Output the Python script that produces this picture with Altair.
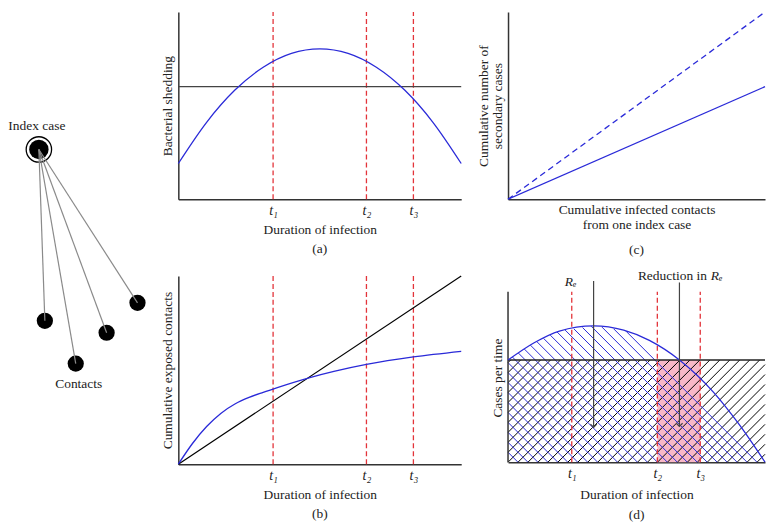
import altair as alt
import pandas as pd
import numpy as np

FONT = "Liberation Serif"
BLUE = "#2a2ad8"
RED = "#e3343a"
PINK = "#f8b8c8"
AXIS = "#333333"
TXT = "#222222"

# ---------------- network diagram ----------------
NODE_NAMES = ["Index case", "c1", "c2", "c3", "c4"]
NODE_X = [30, 36, 67, 98, 129]
NODE_Y = [138, 310, 353, 322, 292]
NET_LABELS = ["Index case", "Contacts"]
NET_LABEL_X = [28, 70]
NET_LABEL_Y = [114, 373]

# ---------------- panel (a) ----------------
A_X = [0, 1, 2, 3, 4, 5, 6, 7, 8, 9, 10]
A_SHED = [1.91, 4.11, 5.83, 7.05, 7.79, 8.03, 7.79, 7.05, 5.83, 4.11, 1.91]
A_THRESHOLD = 6.01
T_AB = [3.35, 6.65, 8.31]
T_LABELS = ["t\u2081", "t\u2082", "t\u2083"]

# ---------------- panel (b) ----------------
B_X = [0, 0.5, 1, 1.5, 2, 2.5, 3, 3.5, 4.65, 5.5, 6.65, 8.31, 10]
B_CONTACTS = [0, 1.1, 2.0, 2.7, 3.2, 3.55, 3.82, 4.07, 4.6, 4.93, 5.3, 5.7, 6.0]
B_LINE_X = [0, 10]
B_LINE_Y = [0, 10]

# ---------------- panel (c) ----------------
C_X = [0, 10]
C_UPPER = [0, 10]
C_LOWER = [0, 6.01]

# ---------------- panel (d) ----------------
D_X = [0, 1, 2, 3.33, 4.5, 5.5, 6.67, 8, 9, 10]
D_CASES = [0.60, 0.70, 0.77, 0.80, 0.775, 0.715, 0.60, 0.41, 0.22, 0.0]
D_THRESHOLD = 0.60
D_AXIS_TOP = 1.0
D_YMAX = 1.14
T_D = [2.48, 5.81, 7.48]
D_ARROW_X = [3.33, 6.67]
D_ARROW_TOP = [1.064, 1.055]
D_ARROW_BOTTOM = [0.205, 0.21]
D_TEXT = ["Reduction in"]
D_TEXT_X = [7.74]
D_TEXT_Y = [1.094]
D_RE = ["R\u2091", "R\u2091"]
D_RE_X = [2.44, 8.12]
D_RE_Y = [1.06, 1.094]

# panel sizes
NET_W, NET_H = 140, 470
AB_W = 284
A_H, B_H = 188, 189
CD_W = 258
C_H = 188
D_H = 195
HATCH = 10
FS = 13.5


def label_expr(values, labels):
    expr = "''"
    for v, l in reversed(list(zip(values, labels))):
        expr = f"datum.value == {v} ? '{l}' : {expr}"
    return expr


def seg(x, y, x2, y2):
    return pd.DataFrame({"x": x, "y": y, "x2": x2, "y2": y2})


def sc(lo, hi):
    return alt.Scale(domain=[lo, hi], nice=False, zero=False)


# ---------------- network ----------------
nx = alt.X("x:Q", scale=sc(0, NET_W), axis=None)
ny = alt.Y("y:Q", scale=alt.Scale(domain=[0, NET_H], nice=False, zero=False, reverse=True), axis=None)
nodes = pd.DataFrame({"name": NODE_NAMES, "x": NODE_X, "y": NODE_Y})
edges = seg([NODE_X[0]] * 4, [NODE_Y[0]] * 4, NODE_X[1:], NODE_Y[1:])
net = alt.layer(
    alt.Chart(nodes.iloc[:1]).mark_point(shape="circle", size=650, filled=True, fill="white", stroke="black", strokeWidth=1.3, opacity=1).encode(x=nx, y=ny),
    alt.Chart(nodes.iloc[:1]).mark_point(shape="circle", size=380, filled=True, color="black", opacity=1).encode(x=nx, y=ny),
    alt.Chart(nodes.iloc[1:]).mark_point(shape="circle", size=265, filled=True, color="black", opacity=1).encode(x=nx, y=ny),
    alt.Chart(edges).mark_rule(color="#8a8a8a", strokeWidth=1.2).encode(x=nx, y=ny, x2="x2:Q", y2="y2:Q"),
    alt.Chart(pd.DataFrame({"t": NET_LABELS, "x": NET_LABEL_X, "y": NET_LABEL_Y})).mark_text(
        font=FONT, fontSize=FS, color=TXT).encode(x=nx, y=ny, text="t:N"),
).properties(width=NET_W, height=NET_H)

# ---------------- panel (a) ----------------
ax_a = alt.X("x:Q", scale=sc(0, 10), axis=alt.Axis(values=T_AB, labelExpr=label_expr(T_AB, T_LABELS),
             title="Duration of infection", labelFontStyle="italic", labelFontSize=14, labelPadding=4, titlePadding=5))
ay_a = alt.Y("y:Q", scale=sc(0, 10), axis=alt.Axis(labels=False, title="Bacterial shedding", titlePadding=4))
panel_a = alt.layer(
    alt.Chart(seg(T_AB, [0] * 3, T_AB, [10] * 3)).mark_rule(color=RED, strokeDash=[5, 3], strokeWidth=1.3).encode(x=ax_a, y=ay_a, y2="y2:Q"),
    alt.Chart(seg([0], [A_THRESHOLD], [10], [A_THRESHOLD])).mark_rule(color="#444", strokeWidth=1.3).encode(x=ax_a, y=ay_a, x2="x2:Q"),
    alt.Chart(pd.DataFrame({"x": A_X, "y": A_SHED})).mark_line(color=BLUE, strokeWidth=1.3, interpolate="monotone").encode(x=ax_a, y=ay_a),
).properties(width=AB_W, height=A_H, title=alt.TitleParams("(a)", orient="bottom", offset=6))

# ---------------- panel (b) ----------------
ay_b = alt.Y("y:Q", scale=sc(0, 10), axis=alt.Axis(labels=False, title="Cumulative exposed contacts", titlePadding=4))
panel_b = alt.layer(
    alt.Chart(seg(T_AB, [0] * 3, T_AB, [10] * 3)).mark_rule(color=RED, strokeDash=[5, 3], strokeWidth=1.3).encode(x=ax_a, y=ay_b, y2="y2:Q"),
    alt.Chart(pd.DataFrame({"x": B_LINE_X, "y": B_LINE_Y})).mark_line(color="black", strokeWidth=1.2).encode(x=ax_a, y=ay_b),
    alt.Chart(pd.DataFrame({"x": B_X, "y": B_CONTACTS})).mark_line(color=BLUE, strokeWidth=1.3, interpolate="monotone").encode(x=ax_a, y=ay_b),
).properties(width=AB_W, height=B_H, title=alt.TitleParams("(b)", orient="bottom", offset=6))

# ---------------- panel (c) ----------------
ax_c = alt.X("x:Q", scale=sc(0, 10), axis=alt.Axis(labels=False, title=["Cumulative infected contacts", "from one index case"],
             titlePadding=3, titleLineHeight=15))
ay_c = alt.Y("y:Q", scale=sc(0, 10), axis=alt.Axis(labels=False, title=["Cumulative number of", "secondary cases"],
             titlePadding=4, titleLineHeight=14))
panel_c = alt.layer(
    alt.Chart(pd.DataFrame({"x": C_X, "y": C_UPPER})).mark_line(color=BLUE, strokeWidth=1.3, strokeDash=[6, 4]).encode(x=ax_c, y=ay_c),
    alt.Chart(pd.DataFrame({"x": C_X, "y": C_LOWER})).mark_line(color=BLUE, strokeWidth=1.3).encode(x=ax_c, y=ay_c),
).properties(width=CD_W, height=C_H, title=alt.TitleParams("(c)", orient="bottom", offset=12))

# ---------------- panel (d) ----------------
px_x = CD_W / 10.0
px_y = D_H / D_YMAX
fx = np.linspace(0, CD_W, 4000)
fy = np.interp(fx / px_x, D_X, D_CASES) * px_y
blue = []
for c in np.arange(HATCH, CD_W + 1e-9, HATCH):
    h = fy - (c - fx)
    idx = np.where((fx <= c) & (h < 0))[0]
    X1 = fx[idx.max()] if idx.size else 0.0
    blue.append((c, 0.0, X1, c - X1))
thr_px = D_THRESHOLD * px_y
black = []
for c in np.arange(-np.floor(thr_px / HATCH) * HATCH, CD_W, HATCH):
    lo, hi = max(0.0, c), min(CD_W, c + thr_px)
    if hi > lo:
        black.append((lo, lo - c, hi, hi - c))
blue_df = pd.DataFrame(blue, columns=["x", "y", "x2", "y2"])
blue_df[["x", "x2"]] /= px_x
blue_df[["y", "y2"]] /= px_y
black_df = pd.DataFrame(black, columns=["x", "y", "x2", "y2"])
black_df[["x", "x2"]] /= px_x
black_df[["y", "y2"]] /= px_y

ax_d = alt.X("x:Q", scale=sc(0, 10), axis=alt.Axis(values=T_D, labelExpr=label_expr(T_D, T_LABELS),
             title="Duration of infection", labelFontStyle="italic", labelFontSize=14, labelPadding=4, titlePadding=7))
ay_d = alt.Y("y:Q", scale=sc(0, D_YMAX), axis=alt.Axis(labels=False, domain=False, title="Cases per time",
             titlePadding=4, titleY=110))
panel_d = alt.layer(
    alt.Chart(seg([T_D[1]], [0], [T_D[2]], [D_THRESHOLD])).mark_rect(color=PINK).encode(x=ax_d, y=ay_d, x2="x2:Q", y2="y2:Q"),
    alt.Chart(black_df).mark_rule(color="black", strokeWidth=1).encode(x=ax_d, y=ay_d, x2="x2:Q", y2="y2:Q"),
    alt.Chart(blue_df).mark_rule(color=BLUE, strokeWidth=1).encode(x=ax_d, y=ay_d, x2="x2:Q", y2="y2:Q"),
    alt.Chart(seg(T_D, [0] * 3, T_D, [D_AXIS_TOP] * 3)).mark_rule(color=RED, strokeDash=[5, 3], strokeWidth=1.3).encode(x=ax_d, y=ay_d, y2="y2:Q"),
    alt.Chart(seg([0], [0], [0], [D_AXIS_TOP])).mark_rule(color=AXIS, strokeWidth=1.5).encode(x=ax_d, y=ay_d, y2="y2:Q"),
    alt.Chart(seg([0], [D_THRESHOLD], [10], [D_THRESHOLD])).mark_rule(color="#222", strokeWidth=1.3).encode(x=ax_d, y=ay_d, x2="x2:Q"),
    alt.Chart(pd.DataFrame({"x": D_X, "y": D_CASES})).mark_line(color=BLUE, strokeWidth=1.3, interpolate="monotone").encode(x=ax_d, y=ay_d),
    alt.Chart(seg(D_ARROW_X, D_ARROW_TOP, D_ARROW_X, D_ARROW_BOTTOM)).mark_rule(color="#444", strokeWidth=1.2).encode(x=ax_d, y=ay_d, y2="y2:Q"),
    alt.Chart(pd.DataFrame({"x": D_ARROW_X, "y": D_ARROW_BOTTOM})).mark_point(shape="M-1,-1L0,0L1,-1", filled=False, color="#444", strokeWidth=1.2, size=40, opacity=1).encode(x=ax_d, y=ay_d),
    alt.Chart(pd.DataFrame({"t": D_TEXT, "x": D_TEXT_X, "y": D_TEXT_Y})).mark_text(font=FONT, fontSize=FS, color=TXT, align="right").encode(x=ax_d, y=ay_d, text="t:N"),
    alt.Chart(pd.DataFrame({"t": D_RE, "x": D_RE_X, "y": D_RE_Y})).mark_text(font=FONT, fontSize=FS, color=TXT, fontStyle="italic").encode(x=ax_d, y=ay_d, text="t:N"),
).properties(width=CD_W, height=D_H, title=alt.TitleParams("(d)", orient="bottom", offset=8))

col2 = alt.vconcat(panel_a, panel_b, spacing=18)
col3 = alt.vconcat(panel_c, panel_d, spacing=12)

chart = alt.hconcat(net, col2, col3, spacing=12).properties(
    padding={"left": 0, "top": 0, "right": 0, "bottom": 0}
).configure_view(stroke=None).configure_axis(
    domainColor=AXIS, domainWidth=1.5, ticks=False, tickSize=0, grid=False,
    labelFont=FONT, titleFont=FONT, labelFontSize=FS, titleFontSize=FS,
    titleFontWeight="normal", labelColor=TXT, titleColor=TXT,
).configure_title(font=FONT, fontSize=FS, fontWeight="normal", color=TXT)

chart.save("out.html", embed_options={"renderer": "svg", "actions": False})
